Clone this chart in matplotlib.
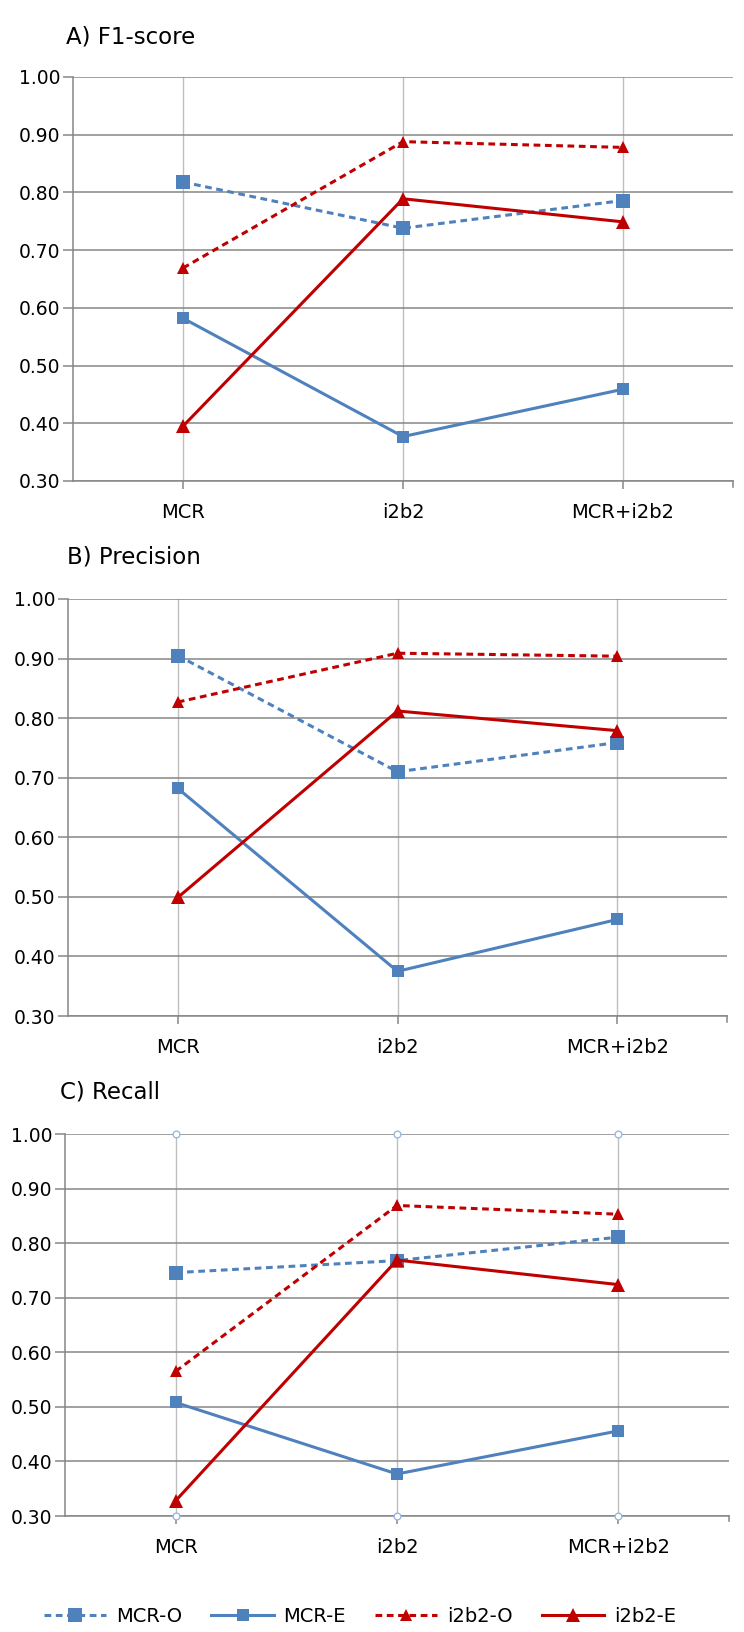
import numpy as np
import matplotlib
matplotlib.use("Agg")
import matplotlib.pyplot as plt

plt.rcParams["font.family"] = ["DejaVu Sans"]

categories = ["MCR", "i2b2", "MCR+i2b2"]
series_names = ["MCR-O", "MCR-E", "i2b2-O", "i2b2-E"]

f1_mcr_o = [0.818, 0.738, 0.786]
f1_mcr_e = [0.582, 0.377, 0.459]
f1_i2b2_o = [0.669, 0.888, 0.878]
f1_i2b2_e = [0.395, 0.789, 0.749]

prec_mcr_o = [0.905, 0.710, 0.759]
prec_mcr_e = [0.682, 0.375, 0.462]
prec_i2b2_o = [0.827, 0.909, 0.904]
prec_i2b2_e = [0.499, 0.812, 0.779]

rec_mcr_o = [0.746, 0.768, 0.811]
rec_mcr_e = [0.508, 0.377, 0.456]
rec_i2b2_o = [0.565, 0.869, 0.853]
rec_i2b2_e = [0.328, 0.769, 0.724]

panel_titles = ["A) F1-score", "B) Precision", "C) Recall"]
y_ticks = [0.30, 0.40, 0.50, 0.60, 0.70, 0.80, 0.90, 1.00]

blue = "#4F81BD"
red = "#C00000"
styles = [
    dict(color=blue, linestyle=(0, (2.2, 1.5)), marker="s", markersize=10),
    dict(color=blue, linestyle="-", marker="s", markersize=9),
    dict(color=red, linestyle=(0, (2.2, 1.5)), marker="^", markersize=8),
    dict(color=red, linestyle="-", marker="^", markersize=10),
]

fig = plt.figure(figsize=(7.44, 16.32), dpi=100)
W, H = 744, 1632
# left, right, top, bottom pixels of each plot area
boxes = [(73, 733, 77, 481), (68, 727, 599, 1016), (65, 729, 1134, 1516)]
title_pos = [(66, 37), (67, 557), (60, 1092)]
data = [
    [f1_mcr_o, f1_mcr_e, f1_i2b2_o, f1_i2b2_e],
    [prec_mcr_o, prec_mcr_e, prec_i2b2_o, prec_i2b2_e],
    [rec_mcr_o, rec_mcr_e, rec_i2b2_o, rec_i2b2_e],
]

x = np.arange(len(categories))
handles = []
for i, (l, r, t, b) in enumerate(boxes):
    ax = fig.add_axes([l / W, 1 - b / H, (r - l) / W, (b - t) / H])
    for vals, st in zip(data[i], styles):
        h, = ax.plot(x, vals, linewidth=2.2, markeredgewidth=0, zorder=3, **st)
        if i == 0:
            handles.append(h)
    if i == 2:
        ax.scatter(np.repeat(x, 2), [0.30, 1.00] * len(x), s=24, facecolor="white",
                   edgecolor="#8EB4E3", linewidth=0.9, zorder=4, clip_on=False)
    ax.set_xlim(-0.5, 2.5)
    ax.set_ylim(0.30, 1.00)
    ax.set_yticks(y_ticks)
    ax.set_yticklabels([f"{v:.2f}" for v in y_ticks], fontsize=13.5)
    ax.set_xticks(x)
    ax.set_xticklabels(categories, fontsize=14)
    ax.grid(axis="y", color="#868686", linewidth=1.1)
    ax.grid(axis="x", color="#BFBFBF", linewidth=1.0)
    ax.set_axisbelow(True)
    for s in ["top", "right"]:
        ax.spines[s].set_visible(False)
    for s in ["left", "bottom"]:
        ax.spines[s].set_color("#868686")
        ax.spines[s].set_linewidth(1.1)
    ax.tick_params(axis="y", length=7, color="#868686", width=1.1, pad=2)
    ax.tick_params(axis="x", length=6, color="#868686", width=1.1, pad=10)
    # tick at right end of the axis
    ax.plot([1, 1], [0, -0.014], transform=ax.transAxes, color="#868686",
            linewidth=1.1, clip_on=False)
    tx, ty = title_pos[i]
    fig.text(tx / W, 1 - ty / H, panel_titles[i], fontsize=16.5, ha="left", va="center")

fig.legend(handles, series_names, loc="center", bbox_to_anchor=(360 / W, 1 - 1616 / H),
           ncol=4, frameon=False, fontsize=14, handlelength=3.2, columnspacing=1.5,
           handletextpad=0.5)

fig.savefig("out.png", dpi=100)
